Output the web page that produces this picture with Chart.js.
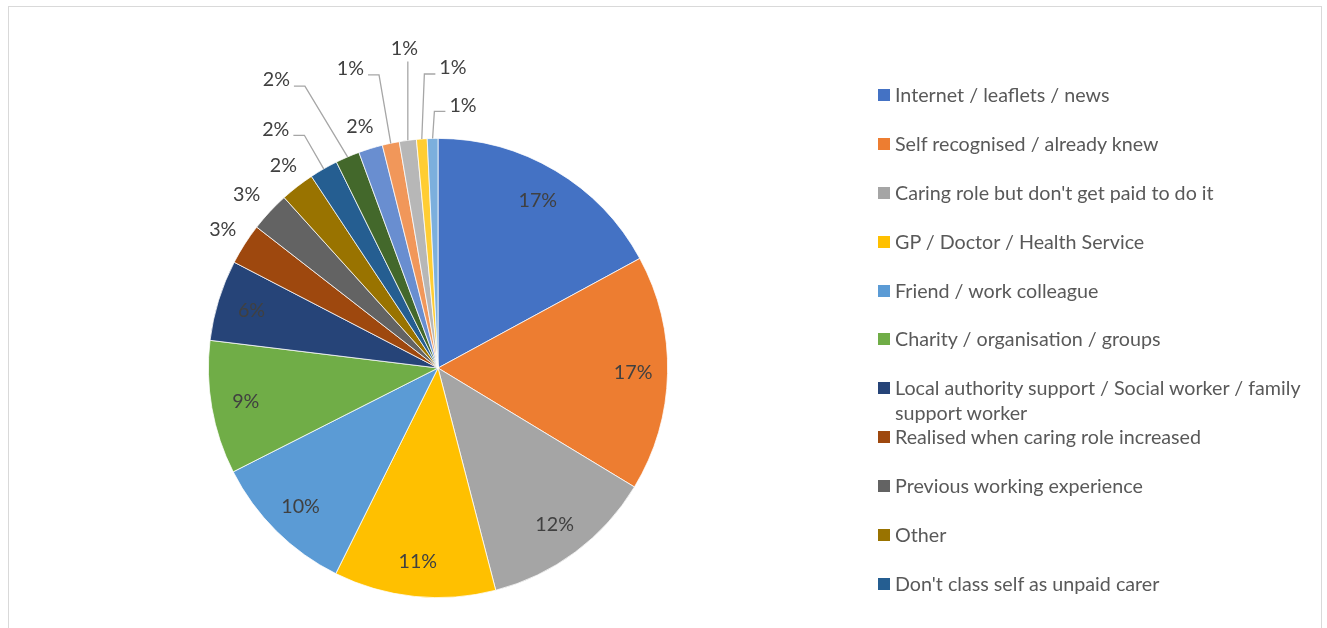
<!DOCTYPE html>
<html>
<head>
<meta charset="utf-8">
<script src="https://cdn.jsdelivr.net/npm/chart.js@4.4.0/dist/chart.umd.min.js"></script>
<style>
    html, body { margin: 0; padding: 0; background: #fff; }
    body { width: 1327px; height: 628px; overflow: hidden; position: relative; font-family: Lato, "Open Sans", sans-serif; }
    #frame { position: absolute; left: 8px; top: 6px; width: 1312px; height: 640px; border: 1px solid #d9d9d9; }
    #wrap { position: absolute; left: 0; top: 0; width: 1327px; height: 628px; }
    #legend { position: absolute; left: 878px; top: 82px; width: 445px; height: 520px; overflow: hidden; }
    .item { position: relative; height: 48.9px; }
    .swatch { position: absolute; left: 0; top: 7px; width: 12px; height: 12px; }
    .txt { position: absolute; left: 17px; top: 0; width: 420px; font-size: 19.7px; line-height: 25px; color: #595959; }
</style>
</head>
<body>
<div id="frame"></div>
<div id="wrap"><canvas id="chart"></canvas></div>
<div id="legend"></div>
<script>
const categories = [
    "Internet / leaflets / news",
    "Self recognised / already knew",
    "Caring role but don't get paid to do it",
    "GP / Doctor / Health Service",
    "Friend / work colleague",
    "Charity / organisation / groups",
    "Local authority support / Social worker / family support worker",
    "Realised when caring role increased",
    "Previous working experience",
    "Other",
    "Don't class self as unpaid carer",
    "Source 12",
    "Source 13",
    "Source 14",
    "Source 15",
    "Source 16",
    "Source 17"
];
// share of responses, percent
const shares = [17.1, 16.6, 12.3, 11.4, 10.2, 9.4, 5.7, 2.9, 2.8, 2.4, 2.0, 1.7, 1.7, 1.2, 1.2, 0.75, 0.75];
const colors = [
    "#4472C4", "#ED7D31", "#A5A5A5", "#FFC000", "#5B9BD5", "#70AD47",
    "#264478", "#9E480E", "#636363", "#997300", "#255E91", "#43682B",
    "#698ED0", "#F1975A", "#B7B7B7", "#FFCD33", "#7CAFDD"
];

// nudges for the small outside labels (px, from the default spot just outside the rim)
const calloutShift = {
    8: [-4, 1], 9: [2, 0], 10: [-35, -17], 11: [-61, -53],
    12: [-3, 3], 13: [-35, -49], 14: [0, -66], 15: [33, -45], 16: [31, -7]
};

const sliceLabels = {
    id: 'sliceLabels',
    afterDatasetsDraw(chart) {
        const ctx = chart.ctx;
        const meta = chart.getDatasetMeta(0);
        const total = shares.reduce((a, b) => a + b, 0);
        ctx.save();
        ctx.font = '19.7px Lato';
        ctx.fillStyle = '#404040';
        ctx.strokeStyle = '#A6A6A6';
        ctx.lineWidth = 1.3;
        ctx.textAlign = 'center';
        ctx.textBaseline = 'middle';
        meta.data.forEach((arc, i) => {
            const { x, y, startAngle, endAngle, outerRadius } =
                arc.getProps(['x', 'y', 'startAngle', 'endAngle', 'outerRadius'], true);
            const mid = (startAngle + endAngle) / 2;
            const cos = Math.cos(mid), sin = Math.sin(mid);
            const text = Math.round(shares[i] / total * 100) + '%';
            if (shares[i] / total > 0.05) {
                ctx.fillText(text, x + cos * outerRadius * 0.85, y + sin * outerRadius * 0.85);
                return;
            }
            const shift = calloutShift[i] || [0, 0];
            const lx = x + cos * (outerRadius + 26) + shift[0];
            const ly = y + sin * (outerRadius + 26) + shift[1];
            ctx.fillText(text, lx, ly);

            if (Math.hypot(shift[0], shift[1]) < 15) return;
            const ax = x + cos * outerRadius, ay = y + sin * outerRadius;
            const tw = ctx.measureText(text).width;
            ctx.beginPath();
            if (Math.abs(ax - lx) < tw / 2) {
                ctx.moveTo(ax, ly + 13);
                ctx.lineTo(ax, ay);
            } else if (ax > lx) {
                const sx = lx + tw / 2 + 4;
                ctx.moveTo(sx, ly + 6);
                ctx.lineTo(sx + 11, ly + 6);
                ctx.lineTo(ax, ay);
            } else {
                const sx = lx - tw / 2 - 4;
                ctx.moveTo(sx, ly + 6);
                ctx.lineTo(sx - 11, ly + 6);
                ctx.lineTo(ax, ay);
            }
            ctx.stroke();
        });
        ctx.restore();
    }
};

new Chart(document.getElementById('chart'), {
    type: 'pie',
    data: {
        labels: categories,
        datasets: [{
            data: shares,
            backgroundColor: colors,
            borderColor: '#ffffff',
            borderWidth: 0.75
        }]
    },
    options: {
        responsive: true,
        maintainAspectRatio: false,
        animation: false,
        layout: { padding: { left: 208, right: 659, top: 138, bottom: 30 } },
        plugins: {
            legend: { display: false },
            tooltip: { enabled: false }
        }
    },
    plugins: [sliceLabels]
});

// legend, Excel style (cut off when it runs out of room)
const legend = document.getElementById('legend');
categories.forEach((name, i) => {
    const item = document.createElement('div');
    item.className = 'item';
    item.innerHTML = '<span class="swatch" style="background:' + colors[i] + '"></span><span class="txt"></span>';
    item.querySelector('.txt').textContent = name;
    legend.appendChild(item);
});
</script>
</body>
</html>
